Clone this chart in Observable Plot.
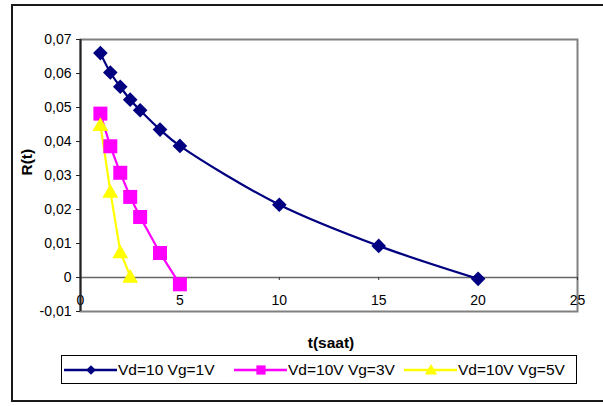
<!DOCTYPE html>
<html>
<head>
<meta charset="utf-8">
<script src="https://cdn.jsdelivr.net/npm/d3@7"></script>
<script src="https://cdn.jsdelivr.net/npm/@observablehq/plot@0.6"></script>
<style>
  html, body { margin: 0; padding: 0; background: #fff; }
  body { width: 603px; height: 406px; position: relative; overflow: hidden; font-family: "Liberation Sans", Arial, sans-serif; }
  #outer { position: absolute; left: 11px; top: 4px; width: 700px; height: 398px; border: 2px solid #1a1a1a; box-sizing: border-box; }
  #chart { position: absolute; left: 0; top: 0; }
  #legend { position: absolute; left: 61px; top: 355px; width: 516px; height: 29px; border: 1px solid #000; box-sizing: border-box; background: #fff; }
  .entry { position: absolute; top: 0; height: 27px; display: flex; align-items: center; font-size: 15.5px; color: #000; white-space: nowrap; }
  .entry svg { display: block; margin-right: 1px; }
</style>
</head>
<body>
<div id="outer"></div>
<div id="chart"></div>
<div id="legend"></div>
<script>
// ---- data ----
const seriesNames = ["Vd=10 Vg=1V", "Vd=10V Vg=3V", "Vd=10V Vg=5V"];
const t1 = [1, 1.5, 2, 2.5, 3, 4, 5, 10, 15, 20];
const r1 = [0.066, 0.0603, 0.0561, 0.0523, 0.0492, 0.0435, 0.0387, 0.0214, 0.0093, -0.0004];
const t2 = [1, 1.5, 2, 2.5, 3, 4, 5];
const r2 = [0.0482, 0.0386, 0.0308, 0.0237, 0.0178, 0.0072, -0.002];
const t3 = [1, 1.5, 2, 2.5];
const r3 = [0.0450, 0.0254, 0.0076, 0.0004];
const xTicks = [0, 5, 10, 15, 20, 25];
const yTicks = [-0.01, 0, 0.01, 0.02, 0.03, 0.04, 0.05, 0.06, 0.07];
const xTitle = "t(saat)";
const yTitle = "R(t)";

const colors = ["#000080", "#ff00ff", "#ffff00"];
const symbols = ["diamond2", "square", "triangle"];

const s1 = t1.map((t, i) => ({t, r: r1[i]}));
const s2 = t2.map((t, i) => ({t, r: r2[i]}));
const s3 = t3.map((t, i) => ({t, r: r3[i]}));

const fmt = d => d === 0 ? "0" : d.toFixed(2).replace(".", ",");

const chart = Plot.plot({
  width: 603,
  height: 406,
  marginLeft: 80,
  marginRight: 26,
  marginTop: 39,
  marginBottom: 95,
  style: {fontFamily: "'Liberation Sans', Arial, sans-serif", fontSize: "14px", color: "#000", background: "transparent"},
  x: {domain: [0, 25], axis: null},
  y: {domain: [-0.01, 0.07]},
  marks: [
    Plot.frame({stroke: "#808080", strokeWidth: 2}),
    Plot.axisY({ticks: yTicks, tickFormat: fmt, tickSize: 4, tickPadding: 5, fontSize: 14, label: null, stroke: "#222"}),
    Plot.ruleY([0], {stroke: "#666", strokeWidth: 1.5}),
    Plot.ruleX(xTicks, {x: d => d, y1: 0, y2: -0.0009, stroke: "#333", strokeWidth: 1}),
    Plot.text(xTicks, {x: d => d, y: 0, dy: 23, text: d => String(d), fontSize: 14, fill: "#000"}),
    Plot.ruleX([0], {stroke: "#222", strokeWidth: 2}),
    Plot.line(s1, {x: "t", y: "r", stroke: colors[0], strokeWidth: 2.2, curve: "catmull-rom"}),
    Plot.line(s2, {x: "t", y: "r", stroke: colors[1], strokeWidth: 2.2}),
    Plot.line(s3, {x: "t", y: "r", stroke: colors[2], strokeWidth: 2.2}),
    Plot.dot(s1, {x: "t", y: "r", symbol: symbols[0], r: 6.6, fill: colors[0], stroke: "none"}),
    Plot.dot(s2, {x: "t", y: "r", symbol: symbols[1], r: 7.9, fill: colors[1], stroke: "none"}),
    Plot.dot(s3, {x: "t", y: "r", symbol: symbols[2], r: 5.9, fill: colors[2], stroke: "none", dy: 2}),
    Plot.text([yTitle], {frameAnchor: "left", dx: -53, rotate: -90, fontWeight: "bold", fontSize: 15.5, fill: "#000"}),
    Plot.text([xTitle], {frameAnchor: "bottom", dx: 2, dy: 36, fontWeight: "bold", fontSize: 15.5, fill: "#000"})
  ]
});
document.getElementById("chart").appendChild(chart);

// ---- legend ----
const legend = document.getElementById("legend");
const lefts = [1, 171, 341];
const legendSym = [d3.symbolDiamond2, d3.symbolSquare, d3.symbolTriangle];
const legendSize = [60, 85, 65];
seriesNames.forEach((name, i) => {
  const e = document.createElement("div");
  e.className = "entry";
  e.style.left = lefts[i] + "px";
  const ns = "http://www.w3.org/2000/svg";
  const svg = document.createElementNS(ns, "svg");
  svg.setAttribute("width", 54);
  svg.setAttribute("height", 20);
  const line = document.createElementNS(ns, "line");
  line.setAttribute("x1", 1); line.setAttribute("x2", 54);
  line.setAttribute("y1", 10); line.setAttribute("y2", 10);
  line.setAttribute("stroke", colors[i]); line.setAttribute("stroke-width", 2.5);
  svg.appendChild(line);
  const p = document.createElementNS(ns, "path");
  p.setAttribute("d", d3.symbol(legendSym[i], legendSize[i])());
  p.setAttribute("transform", `translate(28,${i === 2 ? 11 : 10})`);
  p.setAttribute("fill", colors[i]);
  svg.appendChild(p);
  e.appendChild(svg);
  const span = document.createElement("span");
  span.textContent = name;
  e.appendChild(span);
  legend.appendChild(e);
});
</script>
</body>
</html>
